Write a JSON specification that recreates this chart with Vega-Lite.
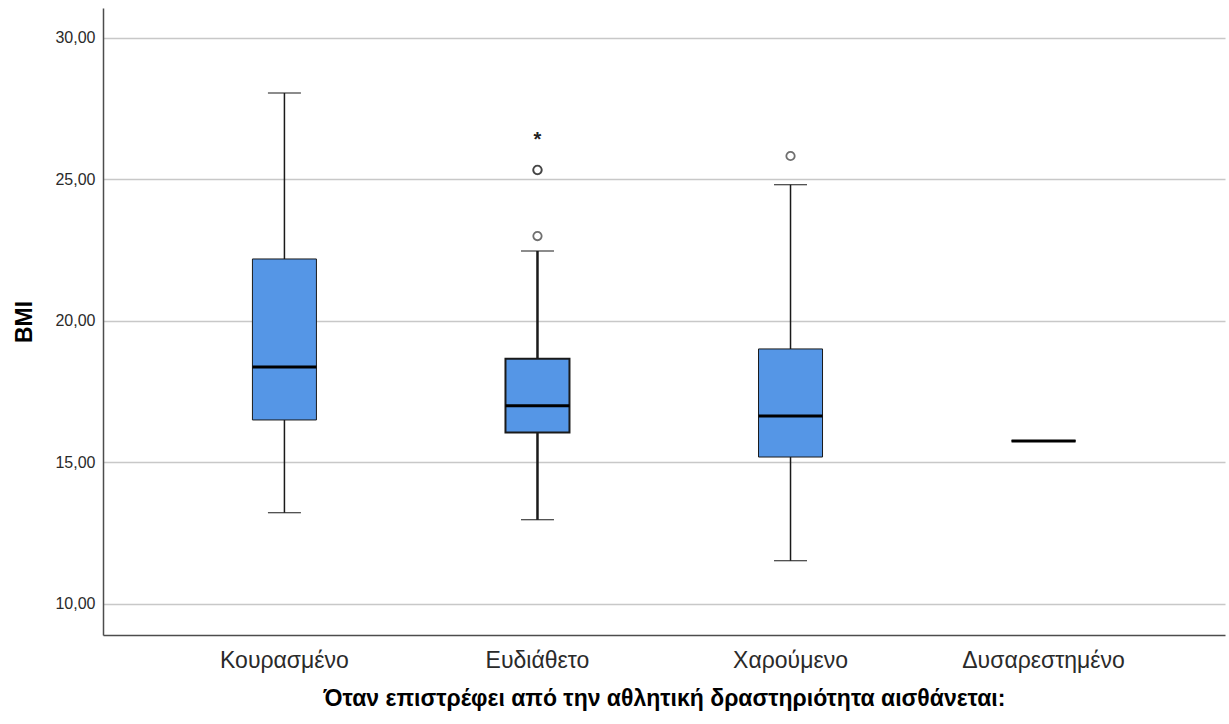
{
  "$schema": "https://vega.github.io/schema/vega-lite/v6.json",
  "width": 1122,
  "height": 627,
  "autosize": {"type": "none"},
  "padding": {"left": 103, "top": 8, "right": 4, "bottom": 89},
  "background": "white",
  "config": {
    "view": {"stroke": null},
    "font": "Liberation Sans",
    "axis": {"domainColor": "#4d4d4d", "domainWidth": 1.5, "ticks": false, "labelColor": "#2a2a2a", "titleColor": "#000000", "titleFontWeight": "bold"}
  },
  "datasets": {
    "boxes": [
      {"cat": "Κουρασμένο", "lo": 13.22, "q1": 16.5, "med": 18.37, "q3": 22.19, "hi": 28.06},
      {"cat": "Ευδιάθετο", "lo": 12.97, "q1": 16.06, "med": 17.0, "q3": 18.66, "hi": 22.47},
      {"cat": "Χαρούμενο", "lo": 11.52, "q1": 15.19, "med": 16.64, "q3": 19.01, "hi": 24.81},
      {"cat": "Δυσαρεστημένο", "lo": 15.76, "q1": 15.76, "med": 15.76, "q3": 15.76, "hi": 15.76}
    ],
    "outliers": [
      {"cat": "Ευδιάθετο", "bmi": 23.0, "kind": "outlier"},
      {"cat": "Ευδιάθετο", "bmi": 25.33, "kind": "outlier"},
      {"cat": "Ευδιάθετο", "bmi": 25.34, "kind": "outlier"},
      {"cat": "Χαρούμενο", "bmi": 25.83, "kind": "outlier"},
      {"cat": "Ευδιάθετο", "bmi": 26.57, "kind": "extreme"}
    ]
  },
  "encoding": {
    "x": {
      "field": "cat", "type": "nominal",
      "sort": ["Κουρασμένο", "Ευδιάθετο", "Χαρούμενο", "Δυσαρεστημένο"],
      "scale": {"paddingInner": 0, "paddingOuter": 0.217},
      "axis": {"title": "Όταν επιστρέφει από την αθλητική δραστηριότητα αισθάνεται:", "labelAngle": 0, "labelFontSize": 23, "labelPadding": 14, "titleFontSize": 23, "titlePadding": 15, "grid": false}
    }
  },
  "layer": [
    {
      "data": {"name": "boxes"},
      "mark": {"type": "rule", "color": "#1a1a1a"},
      "encoding": {
        "y": {
          "field": "lo", "type": "quantitative",
          "scale": {"domain": [8.9, 31.06], "nice": false, "zero": false},
          "axis": {"title": "BMI", "values": [10, 15, 20, 25, 30], "labelExpr": "replace(format(datum.value, '.2f'), '.', ',')", "labelFontSize": 16, "labelPadding": 8, "titleFontSize": 23, "titlePadding": 18, "grid": true, "gridColor": "#c8c8c8", "gridWidth": 1.5}
        },
        "y2": {"field": "hi"},
        "strokeWidth": {"condition": {"test": "datum.cat === 'Ευδιάθετο'", "value": 2.5}, "value": 1.5}
      }
    },
    {
      "data": {"name": "boxes"},
      "mark": {"type": "tick", "size": 33, "color": "#1a1a1a", "opacity": 1},
      "encoding": {
        "y": {"field": "lo", "type": "quantitative"},
        "thickness": {"condition": {"test": "datum.cat === 'Ευδιάθετο'", "value": 2.5}, "value": 1.5}
      }
    },
    {
      "data": {"name": "boxes"},
      "mark": {"type": "tick", "size": 33, "color": "#1a1a1a", "opacity": 1},
      "encoding": {
        "y": {"field": "hi", "type": "quantitative"},
        "thickness": {"condition": {"test": "datum.cat === 'Ευδιάθετο'", "value": 2.5}, "value": 1.5}
      }
    },
    {
      "data": {"name": "boxes"},
      "mark": {"type": "bar", "size": 64, "fill": "#5596e6", "stroke": "#1a1a1a"},
      "encoding": {
        "y": {"field": "q1", "type": "quantitative"},
        "y2": {"field": "q3"},
        "strokeWidth": {"condition": {"test": "datum.cat === 'Ευδιάθετο'", "value": 2}, "value": 1}
      }
    },
    {
      "data": {"name": "boxes"},
      "mark": {"type": "tick", "size": 64, "thickness": 3, "color": "#000000", "opacity": 1},
      "encoding": {
        "y": {"field": "med", "type": "quantitative"}
      }
    },
    {
      "data": {"name": "outliers"},
      "transform": [{"filter": "datum.kind === 'outlier'"}],
      "mark": {"type": "point", "shape": "circle", "size": 70, "filled": false, "stroke": "#333333", "strokeWidth": 1.8, "fill": "white"},
      "encoding": {
        "y": {"field": "bmi", "type": "quantitative"}
      }
    },
    {
      "data": {"name": "outliers"},
      "transform": [{"filter": "datum.kind === 'extreme'"}],
      "mark": {"type": "text", "text": "*", "fontSize": 20, "fontWeight": "bold", "color": "#222222", "baseline": "middle", "dy": 5},
      "encoding": {
        "y": {"field": "bmi", "type": "quantitative"}
      }
    }
  ]
}
